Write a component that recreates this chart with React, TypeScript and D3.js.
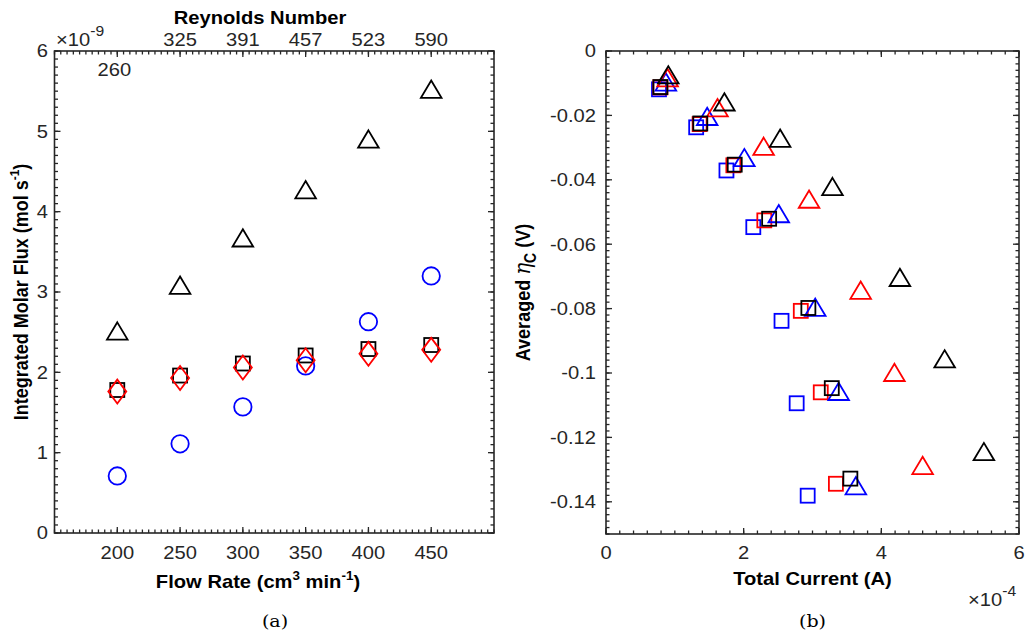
import React from 'react';
import * as d3 from 'd3';

// (a) integrated molar flux vs flow rate, values in 1e-9 mol/s
const flowRates = [200, 250, 300, 350, 400, 450];
const reynoldsLabels = ['260', '325', '391', '457', '523', '590'];
const fluxTriangle = [2.51, 3.08, 3.67, 4.27, 4.9, 5.52];
const fluxCircle = [0.71, 1.11, 1.57, 2.08, 2.63, 3.2];
const fluxSquare = [1.78, 1.96, 2.11, 2.21, 2.29, 2.34];
const fluxDiamond = [1.76, 1.93, 2.06, 2.15, 2.23, 2.28];

// (b) averaged cathode overpotential vs total current (current in 1e-4 A)
const currBlueSq = [0.77, 1.31, 1.75, 2.14, 2.55, 2.77, 2.93];
const etaBlueSq = [-0.0119, -0.0237, -0.0371, -0.0547, -0.0838, -0.1094, -0.1381];
const currRedSq = [0.79, 1.36, 1.85, 2.3, 2.83, 3.12, 3.34];
const etaRedSq = [-0.0113, -0.0227, -0.0355, -0.0526, -0.0807, -0.106, -0.1344];
const currBlackSq = [0.79, 1.37, 1.87, 2.37, 2.94, 3.28, 3.55];
const etaBlackSq = [-0.0112, -0.0225, -0.0353, -0.0521, -0.0798, -0.1047, -0.1328];
const currBlueTri = [0.87, 1.47, 2.01, 2.51, 3.04, 3.38, 3.63];
const etaBlueTri = [-0.0097, -0.0204, -0.0332, -0.0506, -0.0797, -0.1058, -0.1351];
const currRedTri = [0.895, 1.62, 2.29, 2.95, 3.7, 4.19, 4.6];
const etaRedTri = [-0.0084, -0.0177, -0.0297, -0.0461, -0.0744, -0.0999, -0.1288];
const currBlackTri = [0.905, 1.72, 2.53, 3.29, 4.27, 4.92, 5.49];
const etaBlackTri = [-0.0075, -0.0159, -0.0272, -0.0422, -0.0704, -0.0957, -0.1245];

const fluxTicks = [0, 1, 2, 3, 4, 5, 6];
const etaTicks = [0, -0.02, -0.04, -0.06, -0.08, -0.1, -0.12, -0.14];
const currentTicks = [0, 2, 4, 6];

const AX = '#262626';
const FONT = '"Liberation Sans", Arial, Helvetica, sans-serif';
const TICK_FS = 18;
const LBL_FS = 18;
const SX = 1.12; // figure text is a little wider than tall

const tri = (x: number, y: number, c: string, k: string) => (
  <path key={k} d={`M${x},${y - 9}L${x + 10.3},${y + 8.3}L${x - 10.3},${y + 8.3}Z`}
    fill="none" stroke={c} strokeWidth={1.8} />
);
const sq = (x: number, y: number, c: string, k: string) => (
  <rect key={k} x={x - 7} y={y - 7} width={14} height={14} fill="none" stroke={c} strokeWidth={1.8} />
);
const circ = (x: number, y: number, c: string, k: string) => (
  <circle key={k} cx={x} cy={y} r={8.7} fill="none" stroke={c} strokeWidth={1.8} />
);
const diam = (x: number, y: number, c: string, k: string) => (
  <path key={k} d={`M${x},${y - 12}L${x + 9},${y}L${x},${y + 12}L${x - 9},${y}Z`}
    fill="none" stroke={c} strokeWidth={1.8} />
);

// text placed at (x,y) and widened horizontally
function T({ x, y, rot, anchor, dy, children, ...rest }: any) {
  const tf = `translate(${x},${y}) scale(${SX},1)` + (rot ? ` rotate(${rot})` : '');
  return (
    <text transform={tf} textAnchor={anchor || 'start'} dy={dy} {...rest}>{children}</text>
  );
}

function Frame({ x, y, minorX, minorY, majorX, majorY }: any) {
  const [xa, xb] = x.range();
  const [ya, yb] = y.range();
  const top = Math.min(ya, yb), bot = Math.max(ya, yb);
  const L = 6, l = 3.5;
  const out: any[] = [];
  minorX.forEach((v: number, i: number) => {
    const px = x(v);
    out.push(<line key={'bx' + i} x1={px} x2={px} y1={bot} y2={bot - l} />);
    out.push(<line key={'tx' + i} x1={px} x2={px} y1={top} y2={top + l} />);
  });
  majorX.forEach((v: number, i: number) => {
    const px = x(v);
    out.push(<line key={'BX' + i} x1={px} x2={px} y1={bot} y2={bot - L} />);
    out.push(<line key={'TX' + i} x1={px} x2={px} y1={top} y2={top + L} />);
  });
  minorY.forEach((v: number, i: number) => {
    const py = y(v);
    out.push(<line key={'ly' + i} x1={xa} x2={xa + l} y1={py} y2={py} />);
    out.push(<line key={'ry' + i} x1={xb} x2={xb - l} y1={py} y2={py} />);
  });
  majorY.forEach((v: number, i: number) => {
    const py = y(v);
    out.push(<line key={'LY' + i} x1={xa} x2={xa + L} y1={py} y2={py} />);
    out.push(<line key={'RY' + i} x1={xb} x2={xb - L} y1={py} y2={py} />);
  });
  return (
    <g stroke={AX} strokeWidth={1.3} fill="none">
      {out}
      <rect x={xa} y={top} width={xb - xa} height={bot - top} strokeWidth={1.6} />
    </g>
  );
}

export default function App() {
  // left panel
  const xL = d3.scaleLinear().domain([150, 500]).range([54.5, 494]);
  const yL = d3.scaleLinear().domain([0, 6]).range([533, 51]);
  // right panel
  const xR = d3.scaleLinear().domain([0, 6]).range([606, 1019]);
  const yR = d3.scaleLinear().domain([-0.15, 0]).range([534, 51]);

  const fmtEta = (v: number) => (v === 0 ? '0' : d3.format('.2~f')(v).replace('−', '-'));

  return (
    <svg width={1029} height={631} style={{ position: 'absolute', left: 0, top: 0, background: '#fff' }}
      fontFamily={FONT}>
      <rect width={1029} height={631} fill="#fff" />

      {/* ---------- (a) ---------- */}
      <Frame x={xL} y={yL} majorX={flowRates} minorX={d3.range(150, 500.1, 5)}
        majorY={fluxTicks} minorY={d3.range(0, 6.01, 0.1)} />

      {fluxCircle.map((v, i) => circ(xL(flowRates[i]), yL(v), '#0000ff', 'c' + i))}
      {fluxTriangle.map((v, i) => tri(xL(flowRates[i]), yL(v), '#000', 't' + i))}
      {fluxSquare.map((v, i) => sq(xL(flowRates[i]), yL(v), '#000', 's' + i))}
      {fluxDiamond.map((v, i) => diam(xL(flowRates[i]), yL(v), '#ff0000', 'd' + i))}

      <g fontSize={TICK_FS} fill="#262626">
        {fluxTicks.map((v) => (
          <T key={v} x={48} y={yL(v)} dy="0.35em" anchor="end">{v}</T>
        ))}
        {flowRates.map((v) => (
          <T key={v} x={xL(v)} y={559} anchor="middle">{v}</T>
        ))}
        {reynoldsLabels.map((r, i) => (
          <T key={r} x={i === 0 ? xL(flowRates[i]) - 3 : xL(flowRates[i])} y={i === 0 ? 76 : 46}
            anchor="middle">{r}</T>
        ))}
        <T x={56} y={46}>×10<tspan dy={-10} fontSize={14}>-9</tspan></T>
      </g>
      <T x={260} y={24} anchor="middle" fontWeight="bold" fontSize={LBL_FS} fill="#000">
        Reynolds Number
      </T>
      <T x={258} y={588} anchor="middle" fontWeight="bold" fontSize={LBL_FS} fill="#000">
        Flow Rate (cm<tspan dy={-8} fontSize={12}>3</tspan><tspan dy={8}> min</tspan>
        <tspan dy={-8} fontSize={12}>-1</tspan><tspan dy={8}>)</tspan>
      </T>
      <T x={28} y={yL(3)} rot={-90} anchor="middle" fontWeight="bold" fontSize={LBL_FS} fill="#000">
        Integrated Molar Flux (mol s<tspan dy={-8} fontSize={12}>-1</tspan><tspan dy={8}>)</tspan>
      </T>

      {/* ---------- (b) ---------- */}
      <Frame x={xR} y={yR} majorX={currentTicks} minorX={d3.range(0, 6.01, 0.2)}
        majorY={etaTicks} minorY={d3.range(-0.15, 0.0001, 0.002)} />

      {currBlueSq.map((v, i) => sq(xR(v), yR(etaBlueSq[i]), '#0000ff', 'bs' + i))}
      {currRedSq.map((v, i) => sq(xR(v), yR(etaRedSq[i]), '#ff0000', 'rs' + i))}
      {currBlueTri.map((v, i) => tri(xR(v), yR(etaBlueTri[i]), '#0000ff', 'bt' + i))}
      {currRedTri.map((v, i) => tri(xR(v), yR(etaRedTri[i]), '#ff0000', 'rt' + i))}
      {currBlackTri.map((v, i) => tri(xR(v), yR(etaBlackTri[i]), '#000', 'kt' + i))}
      {currBlackSq.map((v, i) => sq(xR(v), yR(etaBlackSq[i]), '#000', 'ks' + i))}

      <g fontSize={TICK_FS} fill="#262626">
        {etaTicks.map((v) => (
          <T key={v} x={596} y={yR(v)} dy="0.35em" anchor="end">{fmtEta(v)}</T>
        ))}
        {currentTicks.map((v) => (
          <T key={v} x={xR(v)} y={559} anchor="middle">{v}</T>
        ))}
        <T x={968} y={606}>×10<tspan dy={-10} fontSize={14}>-4</tspan></T>
      </g>
      <T x={xR(3)} y={585} anchor="middle" fontWeight="bold" fontSize={LBL_FS} fill="#000">
        Total Current (A)
      </T>
      <T x={530} y={yR(-0.075)} rot={-90} anchor="middle" fontWeight="bold" fontSize={LBL_FS} fill="#000">
        Averaged <tspan fontFamily='"DejaVu Serif", serif' fontStyle="italic" fontWeight="normal"
          fontSize={20}>η</tspan>
        <tspan dy={5} fontSize={14}>C</tspan><tspan dy={-5}> (V)</tspan>
      </T>

      {/* captions */}
      <g fontFamily='"DejaVu Serif", "Liberation Serif", serif' fontSize={17} fill="#000">
        <T x={275} y={627} anchor="middle">(a)</T>
        <T x={xR(3)} y={627} anchor="middle">(b)</T>
      </g>
    </svg>
  );
}
